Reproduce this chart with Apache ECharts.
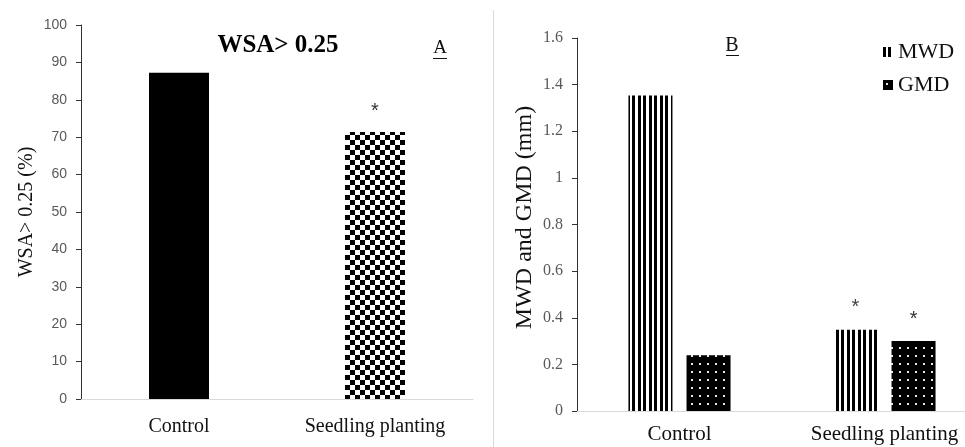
<!DOCTYPE html>
<html><head><meta charset="utf-8">
<script src="https://cdn.jsdelivr.net/npm/echarts@6/dist/echarts.min.js"></script>
<style>html,body{margin:0;padding:0;background:#fff}#c{width:965px;height:447px}</style>
</head><body><div id="c"></div>
<script>
// ---- data ----
const categories = ['Control', 'Seedling planting'];
const wsaValues = [87.2, 71.4];
const wsaSignificant = [false, true];
const mwdValues = [1.353, 0.349];
const gmdValues = [0.239, 0.300];
const mwdSignificant = [false, true];
const gmdSignificant = [false, true];
const seriesNames = ['MWD', 'GMD'];
const wsaAxis = { min: 0, max: 100, interval: 10 };
const mmAxis = { min: 0, max: 1.6, interval: 0.2 };

// ---- patterns ----
function makePattern(w, h, draw) {
  const c = document.createElement('canvas');
  c.width = w; c.height = h;
  const ctx = c.getContext('2d');
  draw(ctx, w, h);
  return { image: c, repeat: 'repeat' };
}
const checker = makePattern(10, 10, (ctx) => {
  ctx.fillStyle = '#fff'; ctx.fillRect(0, 0, 10, 10);
  ctx.fillStyle = '#000'; ctx.fillRect(0, 0, 5, 5); ctx.fillRect(5, 5, 5, 5);
});
const stripes = makePattern(11, 10, (ctx) => {
  ctx.fillStyle = '#fff'; ctx.fillRect(0, 0, 11, 10);
  ctx.fillStyle = '#000'; ctx.fillRect(0, 0, 3, 10); ctx.fillRect(5, 0, 3, 10);
});
const dots = makePattern(8, 8, (ctx) => {
  ctx.fillStyle = '#000'; ctx.fillRect(0, 0, 8, 8);
  ctx.fillStyle = '#e8e8e8'; ctx.fillRect(3, 3, 2, 2);
});

const serif = 'Liberation Serif, Times New Roman, serif';
const sans = 'Liberation Sans, Arial, sans-serif';

const chart = echarts.init(document.getElementById('c'), null, { renderer: 'canvas' });

const catAxisCommon = {
  type: 'category',
  data: categories,
  axisLine: { lineStyle: { color: '#d9d9d9', width: 1 } },
  axisTick: { show: false },
  axisLabel: { color: '#111', fontFamily: serif, fontSize: 20, margin: 18 }
};

chart.setOption({
  animation: false,
  backgroundColor: '#fff',
  grid: [
    { left: 81, top: 25, width: 392, bottom: 48, outerBoundsMode: 'none', containLabel: false },
    { left: 577, top: 38, width: 410, bottom: 36, outerBoundsMode: 'none', containLabel: false }
  ],
  xAxis: [
    Object.assign({ gridIndex: 0 }, catAxisCommon),
    Object.assign({}, catAxisCommon, { gridIndex: 1, axisLabel: { color: '#111', fontFamily: serif, fontSize: 21, margin: 13 } })
  ],
  yAxis: [
    {
      type: 'value', gridIndex: 0,
      min: wsaAxis.min, max: wsaAxis.max, interval: wsaAxis.interval,
      splitLine: { show: false },
      axisLine: { show: true, lineStyle: { color: '#333', width: 1 } },
      axisTick: { show: true, length: 5, lineStyle: { color: '#333' } },
      axisLabel: { color: '#595959', fontFamily: sans, fontSize: 14, margin: 14 },
      name: 'WSA> 0.25 (%)', nameLocation: 'middle', nameGap: 44,
      nameTextStyle: { fontFamily: serif, fontSize: 20, color: '#111' }
    },
    {
      type: 'value', gridIndex: 1,
      min: mmAxis.min, max: mmAxis.max, interval: mmAxis.interval,
      splitLine: { show: false },
      axisLine: { show: true, lineStyle: { color: '#333', width: 1 } },
      axisTick: { show: true, length: 5, lineStyle: { color: '#333' } },
      axisLabel: { color: '#595959', fontFamily: serif, fontSize: 16, margin: 14 },
      name: 'MWD and GMD (mm)', nameLocation: 'middle', nameGap: 40,
      nameTextStyle: { fontFamily: serif, fontSize: 24, color: '#111', padding: [0, 0, 0, 14] }
    }
  ],
  legend: {
    data: seriesNames,
    orient: 'vertical',
    left: 883, top: 41, padding: 0,
    itemWidth: 10, itemHeight: 10, itemGap: 11,
    icon: 'rect',
    textStyle: { fontFamily: serif, fontSize: 22, color: '#111' }
  },
  series: [
    {
      type: 'bar', xAxisIndex: 0, yAxisIndex: 0, barWidth: 60,
      data: wsaValues.map((v, i) => ({
        value: v,
        itemStyle: { color: i === 0 ? '#000' : checker },
        label: { show: wsaSignificant[i] }
      })),
      label: { position: 'top', formatter: '*', distance: 10, fontSize: 20, color: '#333', fontFamily: sans }
    },
    {
      name: seriesNames[0], type: 'bar', xAxisIndex: 1, yAxisIndex: 1, barWidth: 44, barGap: '32%',
      itemStyle: { color: stripes },
      data: mwdValues.map((v, i) => ({ value: v, label: { show: mwdSignificant[i] } })),
      label: { position: 'top', formatter: '*', distance: 12, fontSize: 20, color: '#444', fontFamily: sans }
    },
    {
      name: seriesNames[1], type: 'bar', xAxisIndex: 1, yAxisIndex: 1, barWidth: 44, barGap: '32%',
      itemStyle: { color: dots },
      data: gmdValues.map((v, i) => ({ value: v, label: { show: gmdSignificant[i] } })),
      label: { position: 'top', formatter: '*', distance: 12, fontSize: 20, color: '#333', fontFamily: sans }
    }
  ],
  graphic: [
    { type: 'line', shape: { x1: 493.5, y1: 10, x2: 493.5, y2: 447 }, style: { stroke: '#d9d9d9', lineWidth: 1 } },
    { type: 'text', x: 278, y: 46, style: { text: 'WSA> 0.25', font: 'bold 25px ' + serif, fill: '#000', textAlign: 'center', textVerticalAlign: 'middle' } },
    { type: 'text', x: 440, y: 48, style: { text: 'A', font: '19px ' + serif, fill: '#111', textAlign: 'center', textVerticalAlign: 'middle' } },
    { type: 'line', shape: { x1: 433, y1: 58.5, x2: 447, y2: 58.5 }, style: { stroke: '#111', lineWidth: 1 } },
    { type: 'text', x: 732, y: 46, style: { text: 'B', font: '20px ' + serif, fill: '#111', textAlign: 'center', textVerticalAlign: 'middle' } },
    { type: 'line', shape: { x1: 726, y1: 55.5, x2: 739, y2: 55.5 }, style: { stroke: '#111', lineWidth: 1 } }
  ]
});
</script>
</body></html>
